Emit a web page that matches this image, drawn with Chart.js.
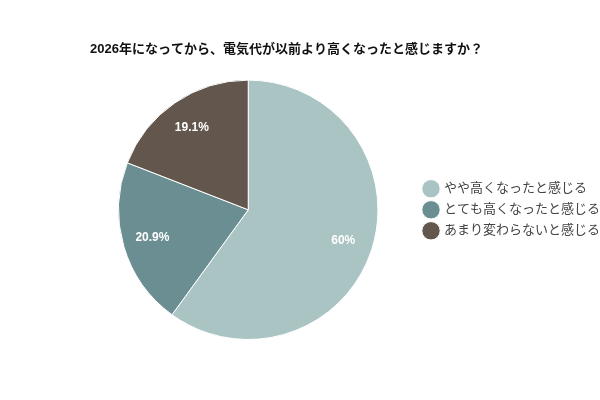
<!DOCTYPE html>
<html>
<script src="https://cdn.jsdelivr.net/npm/chart.js@4.4.1/dist/chart.umd.min.js"></script>
<body style="margin:0; background-color:#ffffff;">
<div style="width:600px;height:400px;">
<canvas id="pieChart" width="600" height="400"></canvas>
</div>

<script>
var chartTitle = '2026年になってから、電気代が以前より高くなったと感じますか？';
var labels = ['やや高くなったと感じる', 'とても高くなったと感じる', 'あまり変わらないと感じる'];
var values = [60, 20.9, 19.1];
var colors = ['#aac3c3', '#6b8e93', '#63574d'];

var fontFamily = "'Liberation Sans', 'Noto Sans CJK JP', sans-serif";

// draws the percentage text inside each slice
var sliceLabels = {
  id: 'sliceLabels',
  afterDatasetsDraw: function(chart) {
    var ctx = chart.ctx;
    var meta = chart.getDatasetMeta(0);
    ctx.save();
    ctx.font = 'bold 12px ' + fontFamily;
    ctx.fillStyle = '#ffffff';
    ctx.textAlign = 'center';
    ctx.textBaseline = 'middle';
    meta.data.forEach(function(arc, i) {
      var p = arc.getProps(['x', 'y', 'startAngle', 'endAngle', 'outerRadius'], true);
      var mid = (p.startAngle + p.endAngle) / 2;
      var r = p.outerRadius * 0.77;
      ctx.fillText(values[i] + '%', p.x + Math.cos(mid) * r, p.y + Math.sin(mid) * r);
    });
    ctx.restore();
  }
};

// v4 adds 10px of slack to the right of a vertical legend; push it flush right
var legendFlush = {
  id: 'legendFlush',
  afterLayout: function(chart) {
    var lg = chart.legend;
    if (!lg) return;
    lg.left += 10;
    lg.right += 10;
  }
};

new Chart('pieChart', {
  type: 'pie',
  data: {
    labels: labels,
    datasets: [{
      data: values,
      backgroundColor: colors,
      borderColor: '#ffffff',
      borderWidth: 1
    }]
  },
  options: {
    responsive: false,
    animation: false,
    layout: { padding: { left: 90, right: 0, top: 42, bottom: 60 } },
    plugins: {
      title: {
        display: true,
        text: chartTitle,
        align: 'start',
        color: '#111111',
        font: { size: 13, weight: 'bold', family: fontFamily },
        padding: { top: 0, bottom: 22 }
      },
      legend: {
        display: true,
        position: 'right',
        fullSize: false,
        labels: {
          usePointStyle: true,
          pointStyle: 'circle',
          boxWidth: 13,
          boxHeight: 13,
          color: '#444444',
          padding: 8,
          font: { size: 13, family: fontFamily }
        }
      },
      tooltip: { enabled: false }
    }
  },
  plugins: [sliceLabels, legendFlush]
});
</script>
</body>
</html>
